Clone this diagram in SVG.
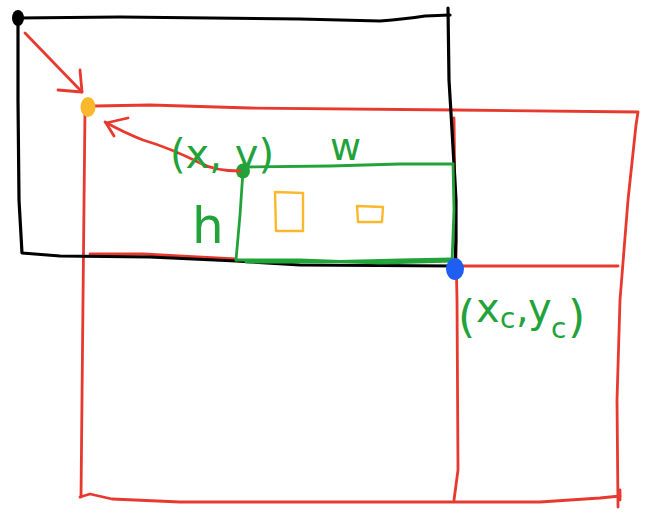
<svg xmlns="http://www.w3.org/2000/svg" width="658" height="530" viewBox="0 0 658 530">
<style>
.s{fill:none;stroke-linecap:round;stroke-linejoin:round}
.k{stroke:#000;stroke-width:3.2}
.r{stroke:#e8392e;stroke-width:2.8}
.g{stroke:#22a33a;stroke-width:2.8}
.o{stroke:#fbb82c;stroke-width:2.4}
.t{fill:#22a33a;font-family:"DejaVu Sans","Liberation Sans",sans-serif}
</style>
<rect width="658" height="530" fill="#fff"/>
<g id="red-grid">
<path class="s r" d="M95,106 L150,105 L250,108 L455,110 L638,112 L636,125 L628,200 L620,300 L617,400 L618,507"/>
<path class="s r" d="M85,110 L83,300 L81,497"/>
<path class="s r" d="M80,497 L90,494 L112,499 L180,502 L300,502 L450,502 L540,502 L600,498 L620,496"/>
<path class="s r" d="M620,490 L620,500"/>
<path class="s r" d="M454,118 L455,200 L457,300 L458,470 L454,500"/>
<path class="s r" d="M457,266 L618,266"/>
<path class="s r" d="M90,254 L143,254 L236,259"/>
</g>
<g id="black-frame">
<path class="s k" d="M18,18 L120,17 L300,19 L380,21 Q405,19 425,16 L450,15"/>
<path class="s k" d="M448,8 L449,80 L452,130 L456,200 L456,240 L455,266 L300,265 L236,261 L150,257 L60,256 L22,253 L19,200 L18,100 L18,20"/>
<ellipse cx="18" cy="18" rx="6" ry="8" fill="#000"/>
</g>
<g id="green-box">
<path class="s g" d="M243,167 L330,166 L400,164 L453,164"/>
<path class="s g" d="M243,171 L240,215 L236,260"/>
<path class="s g" d="M236,260 L300,260 L380,263 L453,261"/>
<path class="s g" d="M246,262 L320,262 L400,260 L452,259"/>
<path class="s g" d="M453,164 L454,210 L452,262"/>
<ellipse cx="243" cy="171" rx="7" ry="7.5" fill="#22a33a"/>
</g>
<g id="objects">
<path class="s o" d="M275,192 L303,193 L303,231 L276,231 Z"/>
<path class="s o" d="M357,206 L383,207 L382,222 L358,222 Z"/>
</g>
<g id="origin-dot">
<ellipse cx="88" cy="107" rx="7.5" ry="10" fill="#fbb82c"/>
</g>
<g id="corner-dot">
<ellipse cx="455" cy="269" rx="9" ry="11" fill="#1f5ef2"/>
</g>
<g id="connectors">
<path class="s r" d="M25,33 L82,92"/>
<path class="s r" d="M58,90 L82,92 L80,70"/>
<path class="s r" d="M240,171 Q215,171 200,163 Q170,148 143,140 Q125,133 105,122"/>
<path class="s r" d="M128,118 L106,123 L114,136"/>
</g>
<g id="labels">
<text class="t" x="170" y="168" font-size="40">(x, y)</text>
<text class="t" x="330" y="160" font-size="38">w</text>
<text class="t" x="192" y="243" font-size="50">h</text>
<text class="t" font-size="44"><tspan x="458" y="332">(</tspan><tspan x="476" y="322" font-size="40">x</tspan><tspan x="500" y="328" font-size="28">c</tspan><tspan x="516" y="322" font-size="40">,</tspan><tspan x="528" y="322" font-size="40">y</tspan><tspan x="551" y="338" font-size="28">c</tspan><tspan x="568" y="332">)</tspan></text>
</g>
</svg>
